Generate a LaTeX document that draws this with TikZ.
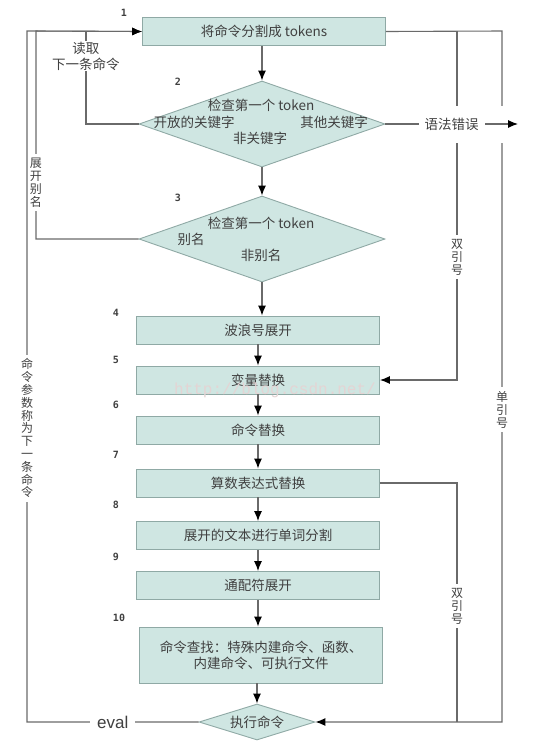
\documentclass[tikz,border=0pt]{standalone}
\usepackage{fontspec}
\setmainfont{Noto Sans CJK SC}
\newfontfamily\numfont{DejaVu Sans Mono}
\newfontfamily\evalfont{Liberation Sans}
\newfontfamily\markfont{Liberation Mono}
\usetikzlibrary{shapes.geometric,arrows.meta}

\definecolor{boxfill}{HTML}{CFE6E2}
\definecolor{boxline}{HTML}{8FA9A5}
\definecolor{txt}{HTML}{404040}
\definecolor{wire}{HTML}{6A6A6A}
\definecolor{wmark}{HTML}{E4D4D4}
\newcommand{\boxfont}{\fontsize{13.5pt}{16pt}\selectfont}

\tikzset{
  stepbox/.style={draw=boxline, fill=boxfill, line width=0.9pt, inner sep=0pt,
    minimum width=243pt, minimum height=28pt, text=txt, font=\boxfont},
  check/.style={shape=diamond, draw=boxline, fill=boxfill, line width=0.9pt,
    inner sep=0pt, minimum width=246pt, minimum height=86pt},
  intext/.style={text=txt, font=\boxfont, inner sep=0pt},
  num/.style={font=\numfont\bfseries\fontsize{10pt}{10pt}\selectfont, text=txt},
  wirelbl/.style={fill=white, text=txt, font=\boxfont, align=center,
    inner xsep=6pt, inner ysep=1pt},
  vlbl/.style={wirelbl, font=\fontsize{12pt}{12.8pt}\selectfont, inner xsep=1pt, inner ysep=4pt},
  flow/.style={draw=wire, line width=1.1pt},
  arr/.style={flow, -{Latex[length=10pt,width=8pt,color=black]}},
}

\begin{document}
\begin{tikzpicture}[x=1pt,y=-1pt]
  \useasboundingbox (0,0) rectangle (536,756);

  % Coordinates
  \coordinate (A) at (27,31);
  \coordinate (B) at (27,722);
  \coordinate (C) at (36,31);
  \coordinate (D) at (36,239);
  \coordinate (F) at (86,31);
  \coordinate (G) at (86,124);
  \coordinate (E) at (518,124);
  \coordinate (H) at (457,31);
  \coordinate (I) at (457,380);
  \coordinate (J) at (502,31);
  \coordinate (K) at (502,722);
  \coordinate (L) at (457,483);
  \coordinate (M) at (457,722);

  % Steps
  \node[stepbox] (split) at (264,31.5) {将命令分割成 tokens};
  \node[check] (kw) at (262,124) {};
  \node[intext] (kwq) at (261,105) {检查第一个 token};
  \node[intext] (kwopen) at (194,122) {开放的关键字};
  \node[intext] (kwother) at (334,122) {其他关键字};
  \node[intext] (kwnone) at (260,138) {非关键字};
  \node[check] (alias) at (262,239) {};
  \node[intext] (alq) at (261,223) {检查第一个 token};
  \node[intext] (alyes) at (191,239) {别名};
  \node[intext] (alno) at (261,255) {非别名};
  \node[stepbox] (tilde) at (258,330) {波浪号展开};
  \node[stepbox] (var) at (258,380) {变量替换};
  \node[stepbox] (cmdsub) at (258,430) {命令替换};
  \node[stepbox] (arith) at (258,483) {算数表达式替换};
  \node[stepbox] (words) at (258,535.5) {展开的文本进行单词分割};
  \node[stepbox] (glob) at (258,585.5) {通配符展开};
  \node[stepbox, minimum height=56pt, align=center] (lookup) at (261,655)
    {命令查找：特殊内建命令、函数、\\内建命令、可执行文件};
  \node[check, minimum width=116pt, minimum height=36pt] (run) at (257,722) {};
  \node[intext] (runtxt) at (run) {执行命令};

  % Step numbers
  \foreach \n/\x/\y in {1/124/13, 2/178/82, 3/178/198, 4/116/313, 5/116/360,
      6/116/405, 7/116/455, 8/116/505, 9/116/557, 10/119/618}
    \node[num] (n\n) at (\x,\y) {\n};

  % Main flow
  \draw[arr] (kw.north |- split.south) -- (kw.north);
  \draw[arr] (kw.south) -- (alias.north);
  \draw[arr] (alias.south) -- (alias.south |- tilde.north);
  \draw[arr] (tilde) -- (var);
  \draw[arr] (var) -- (cmdsub);
  \draw[arr] (cmdsub) -- (arith);
  \draw[arr] (arith) -- (words);
  \draw[arr] (words) -- (glob);
  \draw[arr] (glob.south) -- (glob.south |- lookup.north);
  \draw[arr] (run.north |- lookup.south) -- (run.north);

  % Loops back to the top
  \draw[arr] (run.west) -- node[fill=white, text=txt, inner xsep=7pt,
      font=\evalfont\fontsize{17pt}{17pt}\selectfont] {eval} (B)
    -- node[vlbl, pos=0.425] {命\\令\\参\\数\\称\\为\\下\\一\\条\\命\\令} (A)
    -- (split.west);
  \draw[arr] (alias.west) -- (D) -- node[vlbl, pos=0.27] {展\\开\\别\\名} (C)
    -- (split.west);
  \draw[flow] (kw.west) -- (G) -- node[wirelbl, inner xsep=1pt, pos=0.73]
    {读取\\下一条命令} (F);

  % Quoting paths on the right
  \draw[arr] (split.east) -- (J) -- node[vlbl, pos=0.548] {单\\引\\号} (K)
    -- (run.east);
  \draw[arr] (H) -- node[vlbl, pos=0.648] {双\\引\\号} (I) -- (var.east);
  \draw[flow] (arith.east) -- (L) -- node[vlbl, pos=0.515] {双\\引\\号} (M);

  % Syntax error exit
  \fill[white] (440,106) rectangle (512,143);
  \draw[arr] (kw.east) -- node[wirelbl] {语法错误} (E);

  % Watermark
  \node[font=\markfont\fontsize{16pt}{16pt}\selectfont, text=wmark] (wm)
    at (275,390) {http://blog.csdn.net/};
\end{tikzpicture}
\end{document}
